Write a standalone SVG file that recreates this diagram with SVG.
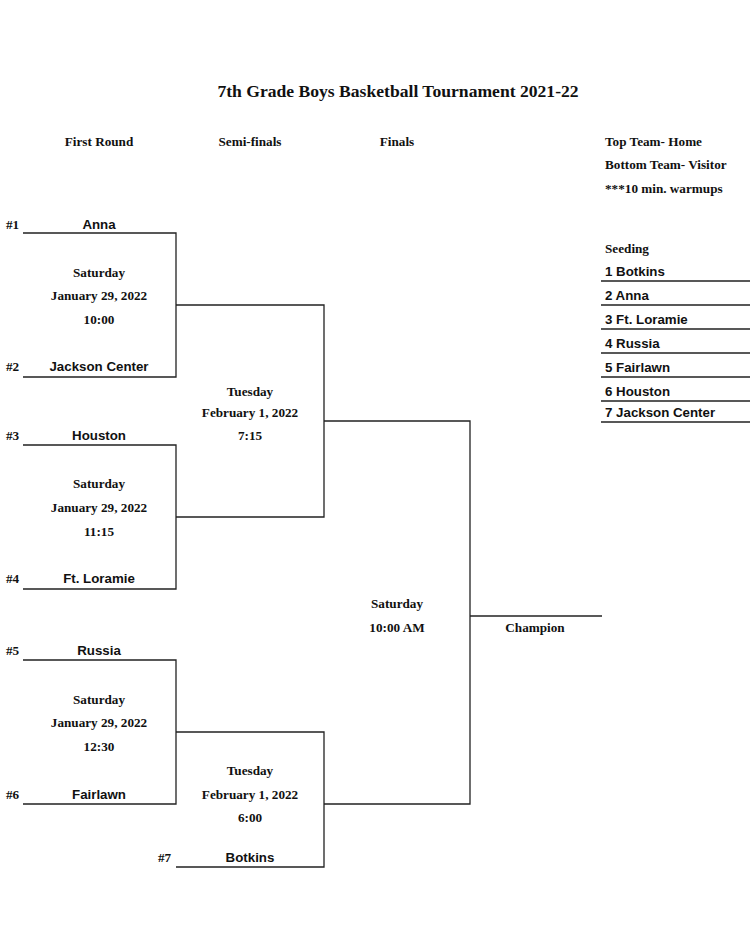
<svg xmlns="http://www.w3.org/2000/svg" width="750" height="945" viewBox="0 0 750 945">
<style>
.s{font-family:"Liberation Serif",serif;font-weight:bold;font-size:13.2px;fill:#111}
.t{font-family:"Liberation Sans",sans-serif;font-weight:bold;font-size:13.3px;fill:#111}
.c{text-anchor:middle}
line,path{stroke:#222;stroke-width:1.3;fill:none}
</style>
<rect width="750" height="945" fill="#fff"/>
<text class="s c" x="398" y="97" style="font-size:17.6px">7th Grade Boys Basketball Tournament 2021-22</text>
<text class="s c" x="99" y="146">First Round</text>
<text class="s c" x="250" y="146">Semi-finals</text>
<text class="s c" x="397" y="146">Finals</text>
<text class="s" x="605" y="146">Top Team- Home</text>
<text class="s" x="605" y="169">Bottom Team- Visitor</text>
<text class="s" x="605" y="193">***10 min. warmups</text>
<g id="connectors">
<path d="M23 233H176V377H23"/>
<path d="M23 445H176V589H23"/>
<path d="M23 660H176V804H23"/>
<path d="M176 305H324V517H176"/>
<path d="M176 732H324V867H176"/>
<path d="M324 421H470V804H324"/>
<line x1="470" y1="616" x2="602" y2="616"/>
</g>
<g id="r1">
<text class="s" x="6" y="229">#1</text><text class="t c" x="99" y="229">Anna</text>
<text class="s" x="6" y="371">#2</text><text class="t c" x="99" y="371">Jackson Center</text>
<text class="s c" x="99" y="277">Saturday</text><text class="s c" x="99" y="300">January 29, 2022</text><text class="s c" x="99" y="324">10:00</text>
</g>
<g id="r2">
<text class="s" x="6" y="440">#3</text><text class="t c" x="99" y="440">Houston</text>
<text class="s" x="6" y="583">#4</text><text class="t c" x="99" y="583">Ft. Loramie</text>
<text class="s c" x="99" y="488">Saturday</text><text class="s c" x="99" y="512">January 29, 2022</text><text class="s c" x="99" y="536">11:15</text>
</g>
<g id="r3">
<text class="s" x="6" y="655">#5</text><text class="t c" x="99" y="655">Russia</text>
<text class="s" x="6" y="799">#6</text><text class="t c" x="99" y="799">Fairlawn</text>
<text class="s c" x="99" y="704">Saturday</text><text class="s c" x="99" y="727">January 29, 2022</text><text class="s c" x="99" y="751">12:30</text>
</g>
<g id="s1">
<text class="s c" x="250" y="396">Tuesday</text><text class="s c" x="250" y="417">February 1, 2022</text><text class="s c" x="250" y="440">7:15</text>
</g>
<g id="s2">
<text class="s c" x="250" y="775">Tuesday</text><text class="s c" x="250" y="799">February 1, 2022</text><text class="s c" x="250" y="822">6:00</text>
<text class="s" x="158" y="862">#7</text><text class="t c" x="250" y="862">Botkins</text>
</g>
<g id="final">
<text class="s c" x="397" y="608">Saturday</text><text class="s c" x="397" y="632">10:00 AM</text>
<text class="s c" x="535" y="632">Champion</text>
</g>
<g id="seeding">
<text class="s" x="605" y="253">Seeding</text>
<text class="t" x="605" y="276">1 Botkins</text>
<text class="t" x="605" y="300">2 Anna</text>
<text class="t" x="605" y="324">3 Ft. Loramie</text>
<text class="t" x="605" y="348">4 Russia</text>
<text class="t" x="605" y="372">5 Fairlawn</text>
<text class="t" x="605" y="396">6 Houston</text>
<text class="t" x="605" y="417">7 Jackson Center</text>
<path d="M601 281H750M601 305H750M601 329H750M601 353H750M601 377H750M601 401H750M601 422H750"/>
</g>
</svg>
